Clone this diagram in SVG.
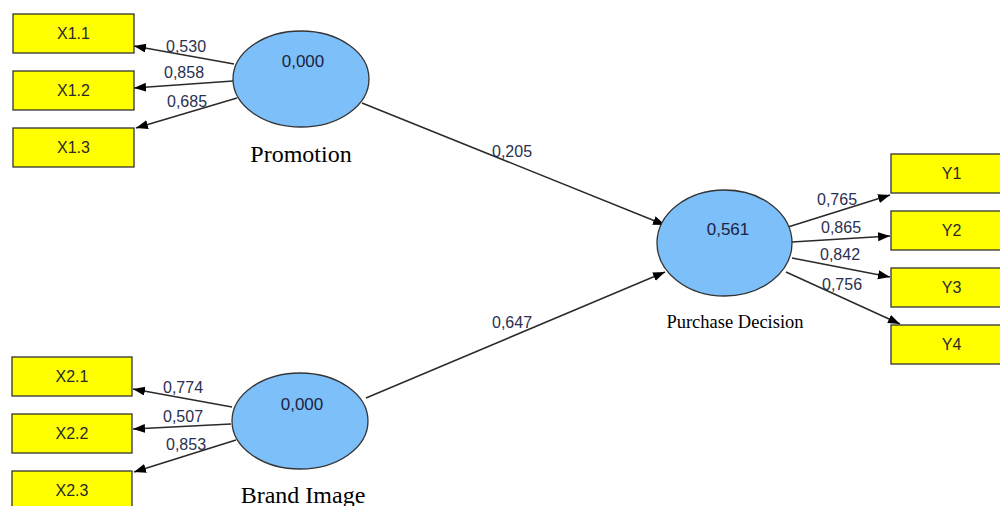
<svg xmlns="http://www.w3.org/2000/svg" width="1000" height="506" viewBox="0 0 1000 506">
  <style>
    .ind rect { fill: #ffff00; stroke: #333; stroke-width: 1.3; }
    .ind text { font-family: "Liberation Sans", Arial, sans-serif; font-size: 16px; fill: #2a2a2a; text-anchor: middle; }
    .lat ellipse { fill: #7cbff9; stroke: #333; stroke-width: 1.3; }
    .lat .val { font-family: "Liberation Sans", Arial, sans-serif; font-size: 17px; fill: #1c2240; text-anchor: middle; }
    .lat .name { font-family: "Liberation Serif", "Times New Roman", serif; fill: #000; text-anchor: middle; }
    .edges line { stroke: #2a2a2a; stroke-width: 1.5; marker-end: url(#arr); }
    .edges text { font-family: "Liberation Sans", Arial, sans-serif; font-size: 16px; fill: #2a3050; }
  </style>
  <defs>
    <marker id="arr" markerUnits="userSpaceOnUse" markerWidth="13" markerHeight="10" refX="12" refY="4.5" orient="auto">
      <path d="M0,0 L12,4.5 L0,9 z" fill="#000"/>
    </marker>
  </defs>
  <rect width="1000" height="506" fill="#fff"/>

  <!-- connectors -->
  <g id="connectors" class="edges">
    <line x1="234" y1="64" x2="134" y2="46"/>
    <line x1="233" y1="81" x2="134" y2="88"/>
    <line x1="237" y1="98" x2="136" y2="128"/>
    <line x1="232" y1="407" x2="133" y2="389"/>
    <line x1="231" y1="424" x2="133" y2="429"/>
    <line x1="236" y1="440" x2="134" y2="472"/>
    <line x1="362" y1="103" x2="665" y2="225"/>
    <line x1="366" y1="398" x2="665" y2="272"/>
    <line x1="788" y1="227" x2="890" y2="195"/>
    <line x1="792" y1="242" x2="890" y2="236"/>
    <line x1="792" y1="258" x2="890" y2="277"/>
    <line x1="786" y1="272" x2="900" y2="324"/>
    <text x="166" y="52">0,530</text>
    <text x="164" y="78">0,858</text>
    <text x="167" y="107">0,685</text>
    <text x="163" y="393">0,774</text>
    <text x="163" y="422">0,507</text>
    <text x="166" y="450">0,853</text>
    <text x="492" y="157">0,205</text>
    <text x="492" y="328">0,647</text>
    <text x="817" y="205">0,765</text>
    <text x="821" y="233">0,865</text>
    <text x="820" y="260">0,842</text>
    <text x="822" y="290">0,756</text>
  </g>

  <!-- indicator boxes -->
  <g id="X1.1" class="ind"><rect x="13" y="14" width="121" height="39"/><text x="73.5" y="39">X1.1</text></g>
  <g id="X1.2" class="ind"><rect x="13" y="71" width="121" height="39"/><text x="73.5" y="96">X1.2</text></g>
  <g id="X1.3" class="ind"><rect x="13" y="128" width="121" height="39"/><text x="73.5" y="153">X1.3</text></g>
  <g id="X2.1" class="ind"><rect x="12" y="357" width="120" height="39"/><text x="72" y="382">X2.1</text></g>
  <g id="X2.2" class="ind"><rect x="12" y="414" width="120" height="39"/><text x="72" y="439">X2.2</text></g>
  <g id="X2.3" class="ind"><rect x="12" y="471" width="120" height="39"/><text x="72" y="496">X2.3</text></g>
  <g id="Y1" class="ind"><rect x="891" y="154" width="121" height="39"/><text x="951.5" y="179">Y1</text></g>
  <g id="Y2" class="ind"><rect x="891" y="211" width="121" height="39"/><text x="951.5" y="236">Y2</text></g>
  <g id="Y3" class="ind"><rect x="891" y="268" width="121" height="39"/><text x="951.5" y="293">Y3</text></g>
  <g id="Y4" class="ind"><rect x="891" y="325" width="121" height="39"/><text x="951.5" y="350">Y4</text></g>

  <!-- latent variables -->
  <g id="promotion" class="lat">
    <ellipse cx="301" cy="79" rx="68" ry="48"/>
    <text class="val" x="303" y="67">0,000</text>
    <text class="name" x="301" y="162" font-size="24">Promotion</text>
  </g>
  <g id="brand-image" class="lat">
    <ellipse cx="300" cy="421" rx="68" ry="48"/>
    <text class="val" x="302" y="410">0,000</text>
    <text class="name" x="303" y="503" font-size="24">Brand Image</text>
  </g>
  <g id="purchase-decision" class="lat">
    <ellipse cx="724.5" cy="243" rx="67.5" ry="53"/>
    <text class="val" x="728" y="235">0,561</text>
    <text class="name" x="735" y="328" font-size="18.5">Purchase Decision</text>
  </g>
</svg>
